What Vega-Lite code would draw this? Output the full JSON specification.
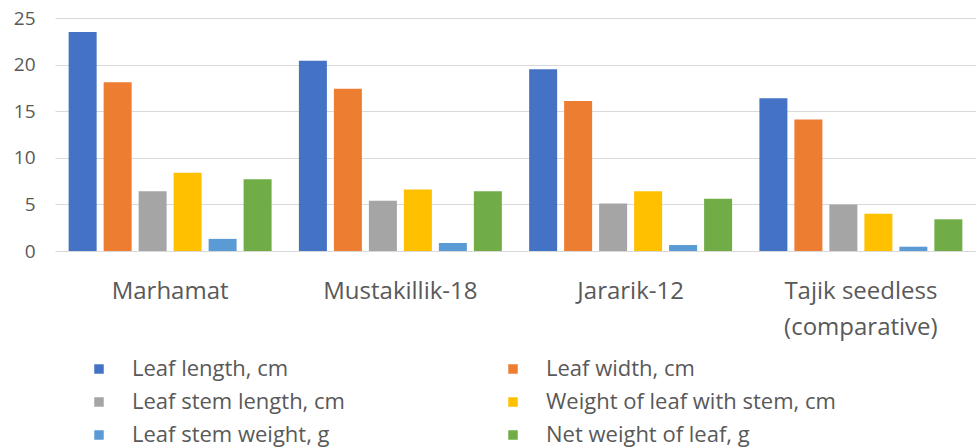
{
  "$schema": "https://vega.github.io/schema/vega-lite/v6.json",
  "width": 921,
  "height": 233,
  "autosize": {"type": "none"},
  "padding": {"left": 55, "top": 18, "right": 0, "bottom": 196},
  "background": "white",
  "config": {"view": {"stroke": null}, "font": "Open Sans"},
  "data": {"values": [
    {"variety": "Marhamat", "measure": "Leaf length, cm", "value": 23.5},
    {"variety": "Marhamat", "measure": "Leaf width, cm", "value": 18.1},
    {"variety": "Marhamat", "measure": "Leaf stem length, cm", "value": 6.4},
    {"variety": "Marhamat", "measure": "Weight of leaf with stem, cm", "value": 8.4},
    {"variety": "Marhamat", "measure": "Leaf stem weight, g", "value": 1.3},
    {"variety": "Marhamat", "measure": "Net weight of leaf, g", "value": 7.7},
    {"variety": "Mustakillik-18", "measure": "Leaf length, cm", "value": 20.4},
    {"variety": "Mustakillik-18", "measure": "Leaf width, cm", "value": 17.4},
    {"variety": "Mustakillik-18", "measure": "Leaf stem length, cm", "value": 5.4},
    {"variety": "Mustakillik-18", "measure": "Weight of leaf with stem, cm", "value": 6.6},
    {"variety": "Mustakillik-18", "measure": "Leaf stem weight, g", "value": 0.86},
    {"variety": "Mustakillik-18", "measure": "Net weight of leaf, g", "value": 6.4},
    {"variety": "Jararik-12", "measure": "Leaf length, cm", "value": 19.5},
    {"variety": "Jararik-12", "measure": "Leaf width, cm", "value": 16.1},
    {"variety": "Jararik-12", "measure": "Leaf stem length, cm", "value": 5.1},
    {"variety": "Jararik-12", "measure": "Weight of leaf with stem, cm", "value": 6.4},
    {"variety": "Jararik-12", "measure": "Leaf stem weight, g", "value": 0.64},
    {"variety": "Jararik-12", "measure": "Net weight of leaf, g", "value": 5.6},
    {"variety": "Tajik seedless (comparative)", "measure": "Leaf length, cm", "value": 16.4},
    {"variety": "Tajik seedless (comparative)", "measure": "Leaf width, cm", "value": 14.1},
    {"variety": "Tajik seedless (comparative)", "measure": "Leaf stem length, cm", "value": 5.0},
    {"variety": "Tajik seedless (comparative)", "measure": "Weight of leaf with stem, cm", "value": 4.0},
    {"variety": "Tajik seedless (comparative)", "measure": "Leaf stem weight, g", "value": 0.46},
    {"variety": "Tajik seedless (comparative)", "measure": "Net weight of leaf, g", "value": 3.4}
  ]},
  "mark": {"type": "bar"},
  "encoding": {
    "x": {
      "field": "variety",
      "type": "nominal",
      "sort": ["Marhamat", "Mustakillik-18", "Jararik-12", "Tajik seedless (comparative)"],
      "scale": {"paddingInner": 0, "paddingOuter": 0},
      "axis": {
        "title": null,
        "labelAngle": 0,
        "labelFontSize": 24,
        "labelColor": "#595959",
        "labelFont": "Open Sans",
        "ticks": false,
        "domain": false,
        "labelPadding": 28,
        "labelLineHeight": 36,
        "labelLimit": 300,
        "labelExpr": "datum.label == 'Tajik seedless (comparative)' ? ['Tajik seedless', '(comparative)'] : datum.label"
      }
    },
    "xOffset": {
      "field": "measure",
      "type": "nominal",
      "sort": ["Leaf length, cm", "Leaf width, cm", "Leaf stem length, cm", "Weight of leaf with stem, cm", "Leaf stem weight, g", "Net weight of leaf, g"],
      "scale": {"paddingInner": 0.2, "paddingOuter": 0.39}
    },
    "y": {
      "field": "value",
      "type": "quantitative",
      "scale": {"domain": [0, 25], "nice": false},
      "axis": {
        "title": null,
        "values": [0, 5, 10, 15, 20, 25],
        "labelFontSize": 19,
        "labelColor": "#595959",
        "labelFont": "Open Sans",
        "ticks": false,
        "domain": false,
        "labelPadding": 20,
        "gridColor": "#d9d9d9",
        "gridWidth": 1.2
      }
    },
    "color": {
      "field": "measure",
      "type": "nominal",
      "scale": {
        "domain": ["Leaf length, cm", "Leaf stem length, cm", "Leaf stem weight, g", "Leaf width, cm", "Weight of leaf with stem, cm", "Net weight of leaf, g"],
        "range": ["#4472C4", "#A5A5A5", "#5B9BD5", "#ED7D31", "#FFC000", "#70AD47"]
      },
      "legend": {
        "title": null,
        "orient": "none",
        "legendX": 33,
        "legendY": 340,
        "columns": 2,
        "symbolType": "square",
        "symbolSize": 90,
        "symbolStrokeWidth": 0,
        "labelFontSize": 22,
        "labelColor": "#595959",
        "labelFont": "Open Sans",
        "labelOffset": 22,
        "columnPadding": 157,
        "rowPadding": 11,
        "labelLimit": 400,
        "padding": 0
      }
    }
  }
}
